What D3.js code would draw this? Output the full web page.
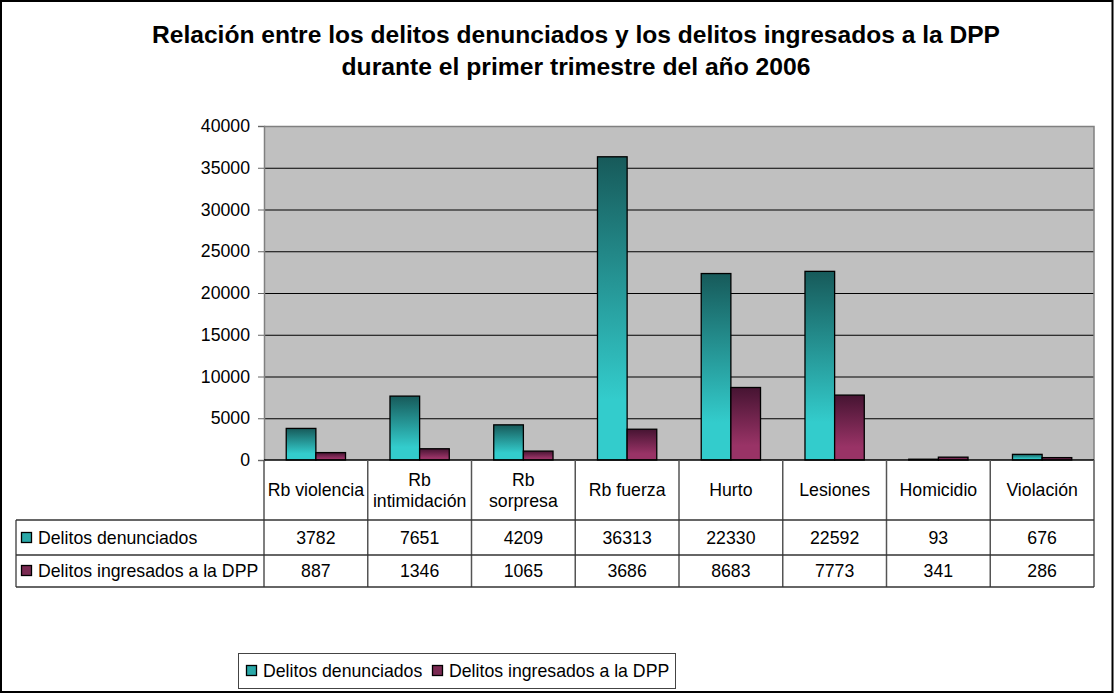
<!DOCTYPE html>
<html>
<head>
<meta charset="utf-8">
<script src="https://cdn.jsdelivr.net/npm/d3@7"></script>
<style>
  html, body { margin: 0; padding: 0; background: #fff; }
  svg { display: block; font-family: "Liberation Sans", Arial, sans-serif; }
</style>
</head>
<body>
<svg id="chart" width="1114" height="694"></svg>
<script>
const titleLines = ["Relación entre los delitos denunciados y los delitos ingresados a la DPP",
                    "durante el primer trimestre del año 2006"];
const categories = ["Rb violencia", "Rb intimidación", "Rb sorpresa", "Rb fuerza", "Hurto", "Lesiones", "Homicidio", "Violación"];
const categoryLabelLines = [["Rb violencia"], ["Rb", "intimidación"], ["Rb", "sorpresa"], ["Rb fuerza"], ["Hurto"], ["Lesiones"], ["Homicidio"], ["Violación"]];
const seriesNames = ["Delitos denunciados", "Delitos ingresados a la DPP"];
const denunciados = [3782, 7651, 4209, 36313, 22330, 22592, 93, 676];
const ingresados = [887, 1346, 1065, 3686, 8683, 7773, 341, 286];
const yTicks = [0, 5000, 10000, 15000, 20000, 25000, 30000, 35000, 40000];

const svg = d3.select("#chart");
const W = 1114, H = 694;
const plot = { left: 264, right: 1094, top: 126, bottom: 460 };

// gradients
const defs = svg.append("defs");
function grad(id, top, bottom) {
  const g = defs.append("linearGradient").attr("id", id).attr("x1", 0).attr("y1", 0).attr("x2", 0).attr("y2", 1);
  g.append("stop").attr("offset", "0%").attr("stop-color", top);
  g.append("stop").attr("offset", "80%").attr("stop-color", bottom);
  g.append("stop").attr("offset", "100%").attr("stop-color", bottom);
}
grad("gTeal", "#175a5a", "#33cccc");
grad("gMaroon", "#461432", "#993366");
const fills = ["url(#gTeal)", "url(#gMaroon)"];
const keyFills = ["#2aa8a8", "#7a2a52"];

// outer border
svg.append("rect").attr("x", 1).attr("y", 1).attr("width", W - 2.5).attr("height", H - 3)
  .attr("fill", "#fff").attr("stroke", "#000").attr("stroke-width", 2);

// title
const titleWidths = [848, 469];
svg.append("g").selectAll("text").data(titleLines).join("text")
  .attr("x", 576).attr("y", (d, i) => 43 + i * 32)
  .attr("text-anchor", "middle").attr("font-size", 23).attr("font-weight", "bold")
  .attr("textLength", (d, i) => titleWidths[i]).attr("lengthAdjust", "spacingAndGlyphs")
  .text(d => d);

// scales
const x = d3.scaleBand().domain(categories).range([plot.left, plot.right]).paddingInner(0).paddingOuter(0);
const y = d3.scaleLinear().domain([0, 40000]).range([plot.bottom, plot.top]);
const bw = x.bandwidth() / 3.5;

// plot background
svg.append("rect").attr("x", plot.left).attr("y", plot.top)
  .attr("width", plot.right - plot.left).attr("height", plot.bottom - plot.top)
  .attr("fill", "#c0c0c0");

// gridlines
svg.append("g").selectAll("line").data(yTicks.filter(t => t > 0 && t < 40000)).join("line")
  .attr("x1", plot.left).attr("x2", plot.right)
  .attr("y1", d => y(d) + 0.5).attr("y2", d => y(d) + 0.5)
  .attr("stroke", "#000").attr("stroke-width", 1);

// plot border (top, right)
svg.append("path")
  .attr("d", `M${plot.left},${plot.top + 0.5}H${plot.right}V${plot.bottom}`)
  .attr("fill", "none").attr("stroke", "#808080").attr("stroke-width", 1.5);

// bars
const series = [denunciados, ingresados];
series.forEach((vals, s) => {
  svg.append("g").selectAll("rect").data(vals).join("rect")
    .attr("x", (d, i) => x(categories[i]) + bw * 0.75 + s * bw)
    .attr("y", d => y(d))
    .attr("width", bw)
    .attr("height", d => plot.bottom - y(d))
    .attr("fill", fills[s])
    .attr("stroke", "#000").attr("stroke-width", 1.3);
});

// y axis
const yAxis = d3.axisLeft(y).tickValues(yTicks).tickSize(6).tickPadding(8).tickFormat(d3.format("d"));
const ya = svg.append("g").attr("transform", `translate(${plot.left},0)`).call(yAxis);
ya.select(".domain").attr("stroke", "#808080").attr("stroke-width", 1.5);
ya.selectAll(".tick line").attr("stroke", "#666");
ya.selectAll(".tick text").attr("font-size", 17.7).attr("fill", "#000")
  .attr("font-family", "'Liberation Sans', Arial, sans-serif");

// x axis line
svg.append("line").attr("x1", plot.left).attr("x2", plot.right)
  .attr("y1", plot.bottom).attr("y2", plot.bottom).attr("stroke", "#000").attr("stroke-width", 1.5);

// data table
const tbl = { left: 16, top: 520, row1: 555, bottom: 587 };
const fs = 17.7;
const bounds = categories.map(c => x(c)).concat([plot.right]);
svg.append("g").selectAll("line").data(bounds).join("line")
  .attr("x1", d => d).attr("x2", d => d)
  .attr("y1", plot.bottom).attr("y2", tbl.bottom)
  .attr("stroke", "#555").attr("stroke-width", 1.5);
svg.append("line").attr("x1", tbl.left).attr("x2", tbl.left).attr("y1", tbl.top).attr("y2", tbl.bottom)
  .attr("stroke", "#555").attr("stroke-width", 1.5);
[tbl.top, tbl.row1, tbl.bottom].forEach(yy => {
  svg.append("line").attr("x1", tbl.left).attr("x2", plot.right).attr("y1", yy).attr("y2", yy)
    .attr("stroke", "#333").attr("stroke-width", 1.5);
});

// header labels
categoryLabelLines.forEach((lines, i) => {
  const cx = x(categories[i]) + x.bandwidth() / 2;
  const n = lines.length;
  svg.append("g").selectAll("text").data(lines).join("text")
    .attr("x", cx)
    .attr("y", (d, j) => 496 + (j - (n - 1) / 2) * 21)
    .attr("text-anchor", "middle").attr("font-size", fs)
    .text(d => d);
});

// row labels with keys
const rowY = [538, 571];
seriesNames.forEach((name, s) => {
  svg.append("rect").attr("x", 21.5).attr("y", rowY[s] - 5.5).attr("width", 10).attr("height", 10)
    .attr("fill", keyFills[s]).attr("stroke", "#000").attr("stroke-width", 1.3);
  svg.append("text").attr("x", 38).attr("y", rowY[s] + 6).attr("font-size", fs).text(name);
  svg.append("g").selectAll("text").data(series[s]).join("text")
    .attr("x", (d, i) => x(categories[i]) + x.bandwidth() / 2)
    .attr("y", rowY[s] + 6)
    .attr("text-anchor", "middle").attr("font-size", fs)
    .text(d => d);
});

// bottom legend
const lg = svg.append("g");
lg.append("rect").attr("x", 238.5).attr("y", 653.5).attr("width", 437).attr("height", 35)
  .attr("fill", "#fff").attr("stroke", "#444").attr("stroke-width", 1);
const legX = [246, 432];
seriesNames.forEach((name, s) => {
  lg.append("rect").attr("x", legX[s] + 0.5).attr("y", 665.5).attr("width", 10).attr("height", 10)
    .attr("fill", keyFills[s]).attr("stroke", "#000").attr("stroke-width", 1.3);
  lg.append("text").attr("x", legX[s] + 17).attr("y", 677).attr("font-size", fs).text(name);
});
</script>
</body>
</html>
